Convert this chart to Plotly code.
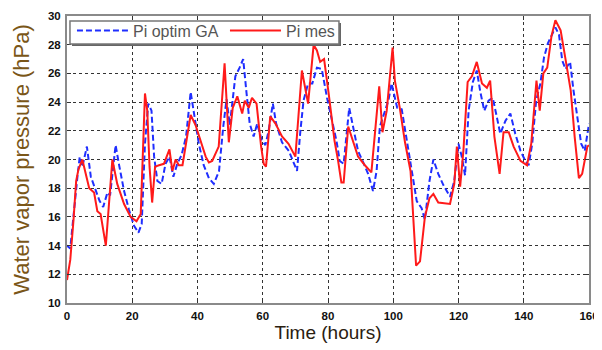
import plotly.graph_objects as go

# Pi mes (measured) - red solid
t_mes = [0, 1, 2, 2.8, 3.5, 4.7, 6.8, 8.3, 9.3, 10.3, 11.9, 13.9, 15.4, 17.5, 19.5, 21.3, 22.6,
         23.9, 24.6, 25.3, 26.1, 27, 28.2, 29.7, 31.4, 32.3, 33.3, 34.3, 35.4, 37.9, 39.4, 42.5,
         43.5, 44.5, 46.5, 48.3, 49.6, 50.8, 52.2, 53.7, 54.5, 55.7, 56.7, 58.1, 59.5, 60.3, 61,
         62.3, 63.9, 65.9, 67.9, 70, 72, 73.9, 75.6, 76.6, 77.6, 78.8, 80.2, 81, 82, 83.1, 84.1,
         84.8, 86.2, 87.2, 89.2, 91.3, 93.3, 95.7, 96.7, 98, 99.8, 100.5, 102, 103.6, 105.3, 107,
         108.2, 109.7, 111.1, 112.3, 113.8, 117.4, 118.7, 119.5, 120.5, 121.5, 122.8, 124.1,
         125.6, 127.2, 128.7, 129.7, 131, 132.6, 133.8, 135.4, 136.9, 139, 141, 142.3, 143.9,
         144.9, 146, 147.2, 148.5, 149.7, 151.3, 152.8, 154.4, 155.6, 156.9, 157.9, 159.5, 160]
p_mes = [11.6, 13.0, 15.8, 18.5, 19.3, 20.0, 18.0, 17.7, 16.4, 16.2, 14.0, 20.0, 18.3, 16.9, 16.0,
         15.7, 16.2, 24.6, 23.4, 19.5, 17.0, 19.5, 19.6, 19.7, 20.7, 19.2, 20.0, 19.6, 19.6, 23.1,
         22.4, 20.2, 19.8, 19.9, 20.9, 26.7, 21.2, 23.6, 24.4, 23.2, 24.1, 23.6, 24.3, 23.9, 20.9,
         19.7, 19.5, 23.0, 22.5, 21.6, 21.1, 20.2, 26.2, 23.9, 28.0, 27.6, 26.8, 27.0, 24.6, 23.1,
         21.3, 19.9, 18.4, 18.4, 22.3, 21.6, 20.2, 19.6, 19.1, 25.1, 21.9, 23.4, 27.8, 25.5, 23.6,
         21.2, 19.2, 12.6, 12.9, 16.0, 17.3, 17.6, 17.0, 16.9, 18.3, 20.9, 18.1, 20.6, 25.4, 25.8,
         26.8, 25.3, 25.0, 25.5, 21.6, 19.0, 21.9, 21.9, 20.9, 19.9, 19.6, 21.1, 25.5, 23.4, 26.0,
         26.4, 28.6, 29.7, 29.0, 27.0, 24.8, 21.6, 18.7, 19.0, 20.9, 21.0]

# Pi optim GA - blue dashed
t_ga = [0, 1, 3.2, 3.9, 4.7, 6.1, 7.3, 8.8, 10, 11.1, 12.4, 13.2, 14.9, 15.9, 17.5, 19, 20.5,
        21.9, 22.9, 23.9, 24.9, 25.9, 26.7, 27.7, 29, 30.2, 31.4, 32.6, 33.8, 35.1, 36.5, 37.9,
        38.9, 40.4, 41.9, 43.5, 45, 46.6, 47.9, 48.9, 49.9, 51.6, 52.9, 54, 55, 56, 57.2, 58.3,
        59.6, 60.8, 61.8, 63.1, 64.1, 65.9, 68, 69.3, 70.5, 71.5, 72.5, 73.9, 75.2, 76.6, 78.1,
        79.7, 81, 82.6, 83.6, 84.8, 86.5, 87.7, 89.2, 90.8, 92.3, 93.8, 94.9, 95.9, 97.4, 98.5,
        99.5, 100.2, 101.2, 102.6, 104.1, 105.6, 107.2, 108.7, 109.7, 111.1, 112.3, 113.8, 115.4,
        117.4, 118.7, 120, 121, 122, 123.1, 124.4, 125.6, 126.7, 127.9, 129.2, 130.5, 131.8,
        132.8, 134.4, 135.9, 137.4, 139, 140.5, 141.5, 142.6, 143.8, 145.1, 146.2, 147.4, 148.7,
        149.7, 150.8, 151.8, 152.8, 154.2, 155.2, 156.4, 157.6, 158.7, 160]
p_ga = [14.0, 13.8, 18.8, 20.2, 19.5, 20.9, 18.8, 17.8, 17.1, 16.7, 17.7, 17.5, 21.0, 19.7, 17.8,
        16.5, 15.4, 14.9, 15.5, 21.1, 23.9, 23.4, 20.2, 18.5, 18.3, 19.7, 20.2, 18.8, 19.7, 20.3,
        21.6, 24.7, 23.2, 21.1, 19.6, 18.7, 18.3, 19.2, 22.3, 24.2, 22.4, 25.8, 26.4, 27.0, 24.7,
        22.5, 21.6, 22.5, 21.4, 21.0, 22.0, 23.9, 22.5, 21.2, 20.6, 19.9, 19.2, 21.9, 24.1, 25.3,
        25.3, 26.4, 26.3, 24.3, 22.9, 21.3, 19.9, 19.7, 23.6, 22.3, 20.6, 19.8, 19.0, 17.8, 19.2,
        22.3, 23.4, 24.1, 25.3, 24.6, 23.6, 23.5, 21.3, 19.2, 17.1, 16.6, 15.8, 18.5, 20.0, 19.0,
        18.2, 17.4, 18.5, 21.1, 20.2, 18.9, 23.4, 25.4, 26.2, 24.7, 23.4, 24.1, 24.3, 22.9, 21.8,
        22.7, 23.2, 21.8, 20.6, 19.9, 19.6, 21.1, 24.1, 25.3, 27.1, 28.1, 28.7, 29.2, 28.7, 26.9,
        26.3, 26.8, 24.9, 22.9, 21.1, 20.6, 22.5]

x_ticks = [0, 20, 40, 60, 80, 100, 120, 140, 160]
y_ticks = [10, 12, 14, 16, 18, 20, 22, 24, 26, 28, 30]

fig = go.Figure()
fig.add_trace(go.Scatter(x=t_ga, y=p_ga, mode="lines", name="Pi optim GA",
                         line=dict(color="#1f2eff", width=2, dash="6px,3px")))
fig.add_trace(go.Scatter(x=t_mes, y=p_mes, mode="lines", name="Pi mes",
                         line=dict(color="#ff1a1a", width=2)))

axis_common = dict(
    showline=True, mirror="ticks", linecolor="#8a8a8a", linewidth=2,
    showgrid=True, gridcolor="#333333", gridwidth=1, griddash="dot",
    ticks="inside", ticklen=4, tickcolor="#333333", tickwidth=1,
    zeroline=False, automargin=False, ticklabeloverflow="allow",
    tickfont=dict(family="Liberation Sans", size=11.5, color="#111111", weight="bold"),
)

fig.update_xaxes(range=[0, 160], tickvals=x_ticks, ticktext=[str(v) for v in x_ticks],
                 ticklabelstandoff=1,
                 title=dict(text="Time (hours)", standoff=0,
                            font=dict(family="Liberation Sans", size=19, color="#2a2010")),
                 **axis_common)
fig.update_yaxes(range=[10, 30], tickvals=y_ticks, ticktext=[str(v) for v in y_ticks],
                 ticklabelstandoff=2,
                 title=dict(text="Water vapor pressure (hPa)", standoff=12,
                            font=dict(family="Liberation Sans", size=22, color="#7a5618")),
                 **axis_common)

# legend frame (shadow + box) drawn behind the legend entries
fig.add_shape(type="rect", xref="paper", yref="paper", x0=0.0096, x1=0.5249, y0=0.8958, y1=0.9757,
              line=dict(width=0), fillcolor="#666666", layer="above")
fig.add_shape(type="rect", xref="paper", yref="paper", x0=0.0057, x1=0.521, y0=0.9028, y1=0.9826,
              line=dict(color="#777777", width=1.5), fillcolor="white", layer="above")

fig.update_layout(
    width=594, height=342,
    margin=dict(l=59, r=13, t=7, b=47),
    plot_bgcolor="white", paper_bgcolor="white",
    legend=dict(orientation="h", x=0.0095, y=1.005, xanchor="left", yanchor="top",
                bgcolor="rgba(0,0,0,0)", borderwidth=0,
                itemwidth=51, entrywidth=87, entrywidthmode="pixels",
                font=dict(family="Liberation Sans", size=16, color="#555555"),
                tracegroupgap=0),
    showlegend=True,
)

fig.write_html("out.html")
